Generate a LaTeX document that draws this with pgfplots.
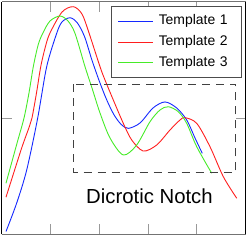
\documentclass[border=0pt]{standalone}
\usepackage{fontspec}
\setmainfont{Liberation Sans}
\usepackage{pgfplots}
\pgfplotsset{compat=1.18}
\definecolor{cblue}{RGB}{20,40,255}
\definecolor{cred}{RGB}{255,30,30}
\definecolor{cgreen}{RGB}{70,235,40}
\begin{document}
\begin{tikzpicture}
\begin{axis}[
  scale only axis, width=244.2bp, height=232.6bp,
  xmin=0, xmax=5, ymin=-1, ymax=1,
  xtick={1,2,3,4}, ytick={0}, xticklabels={}, yticklabels={},
  tick align=inside, major tick length=10bp,
  tick style={color=black!40, line width=0.8bp},
  separate axis lines,
  x axis line style={black!55, line width=1.3bp},
  y axis line style={black, line width=1.3bp},
  legend cell align=left,
  legend image code/.code={\draw[#1] (0bp,0bp) -- (35bp,0bp);},
  legend style={at={(axis description cs:0.448,0.9815)}, anchor=north west,
    draw=black!70, line width=0.9bp, fill=white,
    inner xsep=6.5bp, inner ysep=8.3bp, row sep=7.7bp, column sep=5bp,
    font=\fontsize{14}{16}\selectfont,
    nodes={inner sep=0pt, text height=10bp, text depth=3bp, text width=76bp}},
]
\addplot[cblue, line width=0.9bp, smooth] coordinates {
 (0.092,-0.976) (0.311,-0.731) (0.516,-0.447) (0.741,0) (0.925,0.441)
 (1.130,0.728) (1.239,0.826) (1.403,0.862) (1.55,0.82) (1.70,0.70)
 (1.85,0.50) (2.00,0.32) (2.15,0.16) (2.30,0.03) (2.45,-0.055) (2.596,-0.089)
 (2.836,-0.043) (3.102,0.086) (3.348,0.138) (3.587,0.086) (3.792,-0.017)
 (3.962,-0.172) (4.111,-0.304)};
\addlegendentry{Template 1}
\addplot[cred, line width=0.9bp, smooth] coordinates {
 (0.092,-0.681) (0.256,-0.464) (0.420,-0.249) (0.569,-0.075) (0.624,0)
 (0.72,0.224) (0.803,0.441) (0.90,0.615) (0.993,0.731)
 (1.239,0.911) (1.470,0.957) (1.648,0.894) (1.792,0.731) (2.017,0.441)
 (2.119,0.327) (2.289,0.155) (2.494,-0.046) (2.666,-0.189) (2.903,-0.284)
 (3.178,-0.232) (3.450,-0.103) (3.655,-0.017) (3.757,0.003) (3.997,-0.046)
 (4.269,-0.247) (4.541,-0.504) (4.816,-0.690)};
\addlegendentry{Template 2}
\addplot[cgreen, line width=0.9bp, smooth] coordinates {
 (0.092,-0.561) (0.20,-0.396) (0.33,-0.198) (0.461,0) (0.56,0.209)
 (0.651,0.441) (0.75,0.628) (0.844,0.728)
 (0.993,0.834) (1.198,0.877) (1.362,0.834) (1.505,0.728) (1.710,0.441)
 (1.853,0.258) (2.017,0.043) (2.222,-0.172) (2.494,-0.318) (2.768,-0.232)
 (3.040,-0.032) (3.245,0.069) (3.415,0.097) (3.620,0.054) (3.792,-0.046)
 (3.997,-0.247) (4.304,-0.475)};
\addlegendentry{Template 3}
\draw[dash pattern=on 8bp off 6bp, line width=1bp, color=black!75]
  (axis cs:1.484,0.292) rectangle (axis cs:4.795,-0.467);
\node[anchor=base, font=\fontsize{20.4}{24}\selectfont] at (axis cs:3.03,-0.739) {Dicrotic Notch};
\end{axis}
\pgfresetboundingbox
\path[use as bounding box] ([shift={(-1.5bp,-6.7bp)}]current axis.south west) rectangle ([shift={(3.3bp,1.7bp)}]current axis.north east);
\end{tikzpicture}
\end{document}
